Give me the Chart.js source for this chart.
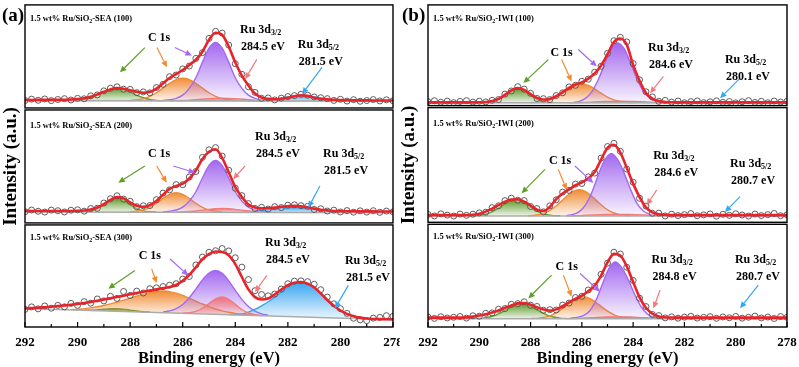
<!DOCTYPE html>
<html>
<head>
<meta charset="utf-8">
<script src="https://cdn.jsdelivr.net/npm/chart.js@4.4.1/dist/chart.umd.min.js"></script>
<style>
  html, body { margin: 0; padding: 0; background: #fff; }
  #wrap { position: relative; width: 799px; height: 367px; }
  canvas { position: absolute; top: 0; }
  #panelA { left: 0; }
  #panelB { left: 400px; }
</style>
</head>
<body>
<div id="wrap">
  <canvas id="panelA" width="400" height="367"></canvas>
  <canvas id="panelB" width="399" height="367"></canvas>
</div>
<script>
const FONT = '"Liberation Serif", "Times New Roman", serif';

// binding energy grid of the measured points (eV)
const energy = [292, 291.75, 291.5, 291.25, 291, 290.75, 290.5, 290.25, 290, 289.75,
  289.5, 289.25, 289, 288.75, 288.5, 288.25, 288, 287.75, 287.5, 287.25,
  287, 286.75, 286.5, 286.25, 286, 285.75, 285.5, 285.25, 285, 284.75,
  284.5, 284.25, 284, 283.75, 283.5, 283.25, 283, 282.75, 282.5, 282.25,
  282, 281.75, 281.5, 281.25, 281, 280.75, 280.5, 280.25, 280, 279.75,
  279.5, 279.25, 279, 278.75, 278.5, 278.25, 278];
const energyTicks = [292, 290, 288, 286, 284, 282, 280, 278];

// ---- (a) SEA ----
const sea100Raw = [8.1, 9.4, 8.3, 9.6, 8.0, 9.1, 9.9, 8.6, 10.2, 9.8,
  12.6, 13.5, 17.4, 19.9, 21.3, 19.0, 18.8, 15.7, 16.4, 15.5,
  20.6, 23.7, 31.0, 32.6, 38.5, 41.2, 48.6, 54.1, 67.8, 74.6,
  72.9, 61.4, 43.5, 33.3, 21.4, 15.9, 10.2, 10.6, 8.7, 10.4,
  11.9, 12.8, 14.1, 13.2, 11.6, 10.8, 9.9, 8.2, 9.3, 7.6,
  8.9, 7.4, 8.1, 9.0, 7.7, 8.8, 7.9];
const sea100Fit = [8.6, 8.6, 8.7, 8.7, 8.8, 8.8, 8.9, 9.1, 9.5, 10.3,
  11.8, 14.0, 16.5, 18.8, 20.0, 19.5, 18.0, 16.5, 15.6, 16.2,
  19.5, 24.5, 29.8, 33.5, 37.4, 42.3, 47.3, 55.0, 66.5, 73.3,
  71.3, 60.0, 44.6, 32.0, 22.5, 14.8, 11.0, 9.7, 9.3, 9.8,
  10.8, 12.3, 13.2, 12.6, 10.8, 9.8, 9.2, 8.8, 8.5, 8.4,
  8.3, 8.3, 8.3, 8.2, 8.2, 8.2, 8.2];
const sea100Base = [[292, 8.0], [278, 7.5]];
const sea100Green = [[290.25, 7.9], [290, 8.3], [289.75, 9.2], [289.5, 10.8], [289.25, 13.4], [289, 16.4], [288.75, 19.0], [288.5, 20.0], [288.25, 19.0], [288, 16.4], [287.75, 13.4], [287.5, 10.8], [287.25, 9.2], [287, 8.3], [286.75, 7.9]];
const sea100Orange = [[288, 8.2], [287.75, 8.8], [287.5, 10.0], [287.25, 12.2], [287, 15.6], [286.75, 20.0], [286.5, 24.6], [286.25, 28.2], [286, 29.5], [285.75, 28.2], [285.5, 24.6], [285.25, 20.0], [285, 15.6], [284.75, 12.2], [284.5, 10.0], [284.25, 8.8], [284, 8.2]];
const sea100Purple = [[286.75, 8.1], [286.5, 8.8], [286.25, 10.2], [286, 13.3], [285.75, 19.8], [285.5, 30.0], [285.25, 45.0], [285, 58.5], [284.75, 64.0], [284.5, 58.5], [284.25, 45.0], [284, 30.0], [283.75, 19.8], [283.5, 13.3], [283.25, 10.2], [283, 8.8], [282.75, 8.1]];
const sea100Pink = [[286.5, 7.9], [286, 8.2], [285.5, 9.0], [285, 9.9], [284.5, 10.3], [284, 9.9], [283.5, 9.0], [283, 8.2], [282.5, 7.9]];
const sea100Blue = [[283.5, 7.7], [283.25, 7.8], [283, 8.1], [282.75, 8.7], [282.5, 9.5], [282.25, 10.6], [282, 11.7], [281.75, 12.6], [281.5, 12.9], [281.25, 12.6], [281, 11.7], [280.75, 10.6], [280.5, 9.5], [280.25, 8.7], [280, 8.1], [279.75, 7.8], [279.5, 7.7]];

const sea200Raw = [10.6, 12.1, 11.0, 10.3, 12.0, 11.5, 10.4, 11.9, 12.3, 11.1,
  13.4, 13.6, 18.2, 21.9, 24.5, 21.6, 19.7, 15.0, 15.8, 16.0,
  21.1, 26.8, 29.6, 34.2, 34.1, 40.8, 45.6, 57.9, 64.5, 66.4,
  59.0, 46.7, 31.1, 24.6, 17.7, 13.5, 14.4, 12.9, 15.0, 14.2,
  16.3, 16.6, 15.9, 15.3, 12.6, 13.2, 11.2, 12.0, 10.4, 11.6,
  10.2, 11.4, 10.3, 11.5, 10.1, 11.2, 10.5];
const sea200Fit = [11.3, 11.3, 11.2, 11.3, 11.2, 11.2, 11.3, 11.3, 11.4, 11.7,
  12.5, 14.3, 17.3, 21.0, 23.4, 22.2, 18.8, 15.8, 14.9, 16.4,
  20.0, 25.5, 30.5, 33.0, 35.0, 39.5, 46.5, 56.5, 62.8, 65.0,
  57.5, 45.0, 32.0, 23.5, 16.8, 14.3, 13.5, 13.6, 14.2, 14.9,
  15.4, 15.7, 15.3, 14.5, 13.3, 12.4, 11.8, 11.3, 11.1, 11.0,
  11.0, 10.9, 10.9, 10.9, 10.8, 10.8, 10.8];
const sea200Base = [[292, 10.4], [278, 9.8]];
const sea200Green = [[289.75, 10.6], [289.5, 11.3], [289.25, 13.3], [289, 16.8], [288.75, 20.6], [288.5, 22.3], [288.25, 20.6], [288, 16.8], [287.75, 13.3], [287.5, 11.3], [287.25, 10.6], [287, 10.35]];
const sea200Orange = [[288, 10.5], [287.75, 11.0], [287.5, 12.2], [287.25, 14.5], [287, 18.0], [286.75, 22.2], [286.5, 25.8], [286.25, 27.2], [286, 25.8], [285.75, 22.2], [285.5, 18.0], [285.25, 14.5], [285, 12.2], [284.75, 11.0], [284.5, 10.5]];
const sea200Purple = [[286.75, 10.45], [286.5, 11.0], [286.25, 12.1], [286, 14.6], [285.75, 19.8], [285.5, 28.0], [285.25, 40.0], [285, 50.8], [284.75, 55.2], [284.5, 50.8], [284.25, 40.0], [284, 28.0], [283.75, 19.8], [283.5, 14.6], [283.25, 12.1], [283, 11.0], [282.75, 10.45]];
const sea200Pink = [[286.25, 10.25], [286, 10.4], [285.75, 10.8], [285.5, 11.3], [285.25, 12.0], [285, 12.7], [284.75, 13.2], [284.5, 13.4], [284.25, 13.2], [284, 12.7], [283.75, 12.0], [283.5, 11.3], [283.25, 10.8], [283, 10.4], [282.75, 10.25]];
const sea200Blue = [[283.75, 10.1], [283.5, 10.3], [283.25, 10.7], [283, 11.3], [282.75, 12.0], [282.5, 12.9], [282.25, 13.7], [282, 14.3], [281.75, 14.5], [281.5, 14.3], [281.25, 13.7], [281, 12.9], [280.75, 12.0], [280.5, 11.3], [280.25, 10.7], [280, 10.3], [279.75, 10.1]];

const sea300Raw = [17.1, 19.5, 17.6, 20.4, 18.2, 21.0, 19.6, 22.9, 21.0, 24.6,
  23.1, 27.2, 25.3, 29.8, 27.7, 34.5, 30.6, 34.8, 33.0, 37.1,
  38.0, 39.2, 40.6, 42.0, 46.5, 49.0, 60.2, 67.9, 72.5, 74.0,
  76.1, 73.8, 67.2, 58.1, 46.0, 35.2, 31.5, 30.2, 32.0, 36.8,
  42.0, 44.5, 44.8, 44.0, 41.5, 36.2, 29.0, 22.5, 17.8, 13.2,
  8.5, 6.9, 6.2, 8.6, 9.3, 11.0, 10.4];
const sea300Fit = [18.0, 18.3, 18.7, 19.2, 19.7, 20.3, 21.0, 21.6, 22.4, 23.3,
  24.4, 25.5, 26.7, 27.9, 29.1, 30.4, 31.7, 33.0, 34.2, 35.4,
  36.5, 37.7, 38.9, 40.8, 44.8, 50.5, 58.0, 65.8, 70.8, 73.2,
  72.8, 69.5, 61.0, 48.5, 36.5, 29.0, 26.7, 27.6, 31.5, 36.3,
  40.6, 42.9, 43.6, 42.1, 38.5, 32.6, 26.2, 20.6, 16.0, 12.7,
  10.4, 9.1, 8.3, 7.8, 7.6, 7.5, 7.4];
const sea300Base = [[292, 18.0], [278, 7.0]];
const sea300Green = [[289.75, 16.35], [289.5, 16.4], [289.25, 16.65], [289, 17.2], [288.75, 17.65], [288.5, 17.75], [288.25, 17.3], [288, 16.4], [287.75, 15.5], [287.5, 14.8], [287.25, 14.4]];
const sea300Orange = [[290.25, 16.9], [290, 17.0], [289.75, 17.8], [289.5, 18.6], [289.25, 19.6], [289, 20.9], [288.75, 22.4], [288.5, 24.2], [288.25, 26.0], [288, 28.0], [287.75, 30.0], [287.5, 31.9], [287.25, 33.6], [287, 34.7], [286.75, 34.9], [286.5, 34.3], [286.25, 32.8], [286, 30.6], [285.75, 27.9], [285.5, 25.1], [285.25, 22.3], [285, 19.7], [284.75, 17.5], [284.5, 15.7], [284.25, 14.3], [284, 13.2], [283.75, 12.4], [283.5, 11.9], [283.25, 11.4]];
const sea300Purple = [[286.75, 14.6], [286.5, 15.6], [286.25, 17.8], [286, 21.9], [285.75, 28.4], [285.5, 36.8], [285.25, 45.6], [285, 52.4], [284.75, 54.8], [284.5, 52.0], [284.25, 44.8], [284, 35.6], [283.75, 26.8], [283.5, 19.9], [283.25, 15.4], [283, 12.8], [282.75, 11.5]];
const sea300Pink = [[286, 13.5], [285.75, 13.8], [285.5, 15.2], [285.25, 18.2], [285, 22.8], [284.75, 27.3], [284.5, 29.1], [284.25, 26.9], [284, 22.0], [283.75, 17.0], [283.5, 13.6], [283.25, 11.9], [283, 11.1]];
const sea300Blue = [[284.25, 12.1], [284, 12.2], [283.75, 12.5], [283.5, 14.5], [283.25, 17.0], [283, 20.5], [282.75, 24.5], [282.5, 29.0], [282.25, 34.0], [282, 38.8], [281.75, 42.4], [281.5, 43.6], [281.25, 42.0], [281, 37.8], [280.75, 32.1], [280.5, 25.9], [280.25, 20.3], [280, 15.7], [279.75, 12.5], [279.5, 10.3], [279.25, 9.0], [279, 8.2], [278.75, 7.8]];

// ---- (b) IWI ----
const iwi100Raw = [4.9, 5.8, 4.3, 5.4, 3.9, 5.1, 5.9, 4.4, 5.3, 4.6,
  6.2, 7.0, 12.3, 15.4, 19.6, 17.2, 13.1, 8.0, 7.8, 6.9,
  10.9, 13.6, 19.4, 21.0, 24.9, 27.0, 33.8, 39.7, 52.4, 64.8,
  68.1, 63.6, 42.3, 26.4, 14.6, 9.5, 5.2, 6.1, 4.4, 5.5,
  3.8, 4.9, 5.6, 3.9, 4.7, 5.7, 4.2, 5.0, 3.7, 4.8,
  5.9, 4.1, 5.2, 3.8, 5.5, 4.5, 5.3];
const iwi100Fit = [4.2, 4.2, 4.2, 4.2, 4.2, 4.2, 4.2, 4.2, 4.3, 4.6,
  5.5, 7.6, 11.5, 16.0, 18.3, 16.4, 12.3, 8.6, 7.0, 7.6,
  10.2, 14.2, 18.5, 21.8, 23.8, 27.5, 32.6, 40.5, 51.5, 63.5,
  67.0, 61.0, 41.0, 25.5, 13.5, 7.8, 5.4, 4.6, 4.3, 4.2,
  4.2, 4.2, 4.2, 4.2, 4.2, 4.2, 4.2, 4.2, 4.2, 4.2,
  4.2, 4.2, 4.2, 4.2, 4.2, 4.2, 4.2];
const iwi100Base = [[292, 3.8], [278, 3.7]];
const iwi100Green = [[289.75, 4.1], [289.5, 4.9], [289.25, 7.2], [289, 11.2], [288.75, 15.5], [288.5, 17.5], [288.25, 15.5], [288, 11.2], [287.75, 7.2], [287.5, 4.9], [287.25, 4.1]];
const iwi100Orange = [[288, 4.0], [287.75, 4.3], [287.5, 5.1], [287.25, 6.7], [287, 9.4], [286.75, 13.2], [286.5, 17.4], [286.25, 20.8], [286, 22.1], [285.75, 20.8], [285.5, 17.4], [285.25, 13.2], [285, 9.4], [284.75, 6.7], [284.5, 5.1], [284.25, 4.3], [284, 4.0]];
const iwi100Purple = [[286.35, 4.2], [286.1, 5.2], [285.85, 8.3], [285.6, 15.0], [285.35, 27.1], [285.1, 42.8], [284.85, 56.9], [284.6, 62.7], [284.35, 56.9], [284.1, 42.8], [283.85, 27.1], [283.6, 15.0], [283.35, 8.3], [283.1, 5.2], [282.85, 4.2]];
const iwi100Pink = [[286.5, 3.85], [286, 4.1], [285.5, 4.6], [285, 5.1], [284.5, 5.4], [284, 5.1], [283.5, 4.6], [283, 4.1], [282.5, 3.85]];
const iwi100Blue = [[282.5, 3.75], [282, 3.8], [281.5, 3.9], [281, 4.05], [280.5, 4.25], [280.1, 4.35], [279.5, 4.2], [279, 4.0], [278.5, 3.85], [278, 3.75]];

const iwi200Raw = [7.6, 6.3, 8.1, 7.0, 6.2, 7.9, 6.8, 7.8, 8.9, 9.5,
  13.4, 15.0, 19.4, 21.5, 19.8, 19.5, 14.4, 12.6, 9.8, 14.9,
  20.1, 26.7, 28.2, 33.6, 34.1, 39.8, 43.0, 55.9, 65.8, 68.5,
  61.7, 46.5, 35.2, 21.4, 14.7, 8.6, 8.7, 6.3, 7.8, 6.6,
  7.4, 8.3, 6.5, 7.2, 8.0, 6.1, 7.7, 6.8, 8.2, 7.1,
  6.2, 7.9, 6.6, 7.4, 8.4, 6.5, 7.3];
const iwi200Fit = [7.0, 7.0, 7.0, 7.0, 7.0, 7.0, 7.0, 7.3, 8.2, 10.0,
  12.6, 15.6, 18.5, 20.4, 20.6, 18.6, 15.2, 11.7, 10.5, 14.0,
  20.8, 25.6, 29.0, 32.6, 35.0, 38.6, 44.0, 54.6, 64.6, 67.3,
  60.5, 47.6, 34.0, 22.5, 13.6, 9.4, 7.8, 7.2, 7.0, 7.0,
  7.0, 7.0, 7.0, 7.0, 7.0, 7.0, 7.0, 7.0, 7.0, 7.0,
  7.0, 7.0, 7.0, 7.0, 7.0, 7.0, 7.0];
const iwi200Base = [[292, 6.3], [278, 6.2]];
const iwi200Green = [[290.35, 6.4], [290.1, 6.6], [289.85, 7.3], [289.6, 8.9], [289.35, 11.7], [289.1, 15.3], [288.85, 18.6], [288.6, 19.9], [288.35, 18.6], [288.1, 15.3], [287.85, 11.7], [287.6, 8.9], [287.35, 7.3], [287.1, 6.6], [286.85, 6.4]];
const iwi200Orange = [[288.1, 6.5], [287.85, 6.9], [287.6, 7.9], [287.35, 9.8], [287.1, 13.15], [286.85, 17.8], [286.6, 23.0], [286.35, 27.1], [286.1, 28.7], [285.85, 27.1], [285.6, 23.0], [285.35, 17.8], [285.1, 13.15], [284.85, 9.8], [284.6, 7.9], [284.35, 6.9], [284.1, 6.5]];
const iwi200Purple = [[286.6, 6.6], [286.35, 7.5], [286.1, 10.0], [285.85, 16.0], [285.6, 27.0], [285.35, 42.0], [285.1, 54.5], [284.85, 59.9], [284.6, 54.5], [284.35, 43.0], [284.1, 29.0], [283.85, 17.0], [283.6, 10.5], [283.35, 7.6], [283.1, 6.6]];
const iwi200Pink = [[286.6, 6.35], [286.1, 6.6], [285.6, 7.1], [285.1, 7.5], [284.6, 7.6], [284.1, 7.5], [283.6, 7.1], [283.1, 6.6], [282.6, 6.35]];
const iwi200Blue = [[282.5, 6.25], [282, 6.35], [281.5, 6.5], [281, 6.7], [280.7, 6.8], [280.2, 6.7], [279.7, 6.5], [279.2, 6.35], [278.7, 6.25], [278, 6.2]];

const iwi300Raw = [9.6, 8.3, 9.9, 8.7, 9.4, 10.1, 8.6, 10.8, 10.4, 13.2,
  13.6, 17.1, 17.8, 21.9, 22.5, 24.3, 21.0, 19.8, 16.2, 16.7,
  16.4, 21.2, 23.1, 28.4, 29.6, 35.7, 39.1, 50.8, 61.6, 72.1,
  70.4, 57.6, 44.9, 27.8, 19.7, 12.1, 11.0, 8.8, 9.8, 8.5,
  9.5, 10.3, 8.6, 9.3, 10.0, 8.4, 9.7, 8.9, 10.2, 8.5,
  9.4, 10.5, 8.7, 9.6, 8.2, 10.1, 9.3];
const iwi300Fit = [9.0, 9.0, 9.0, 9.0, 9.0, 9.0, 9.3, 10.0, 11.0, 12.3,
  14.0, 16.0, 18.4, 20.8, 22.8, 23.2, 21.5, 19.0, 16.8, 15.8,
  17.0, 20.0, 23.8, 27.2, 30.3, 34.5, 39.8, 49.5, 62.3, 70.5,
  69.0, 58.5, 43.5, 28.6, 18.5, 12.8, 10.2, 9.4, 9.1, 9.0,
  9.0, 9.0, 9.0, 9.0, 9.0, 9.0, 9.0, 9.0, 9.0, 9.0,
  9.0, 9.0, 9.0, 9.0, 9.0, 9.0, 9.0];
const iwi300Base = [[292, 8.0], [278, 7.9]];
const iwi300Green = [[290.1, 8.2], [289.85, 8.6], [289.6, 9.6], [289.35, 11.5], [289.1, 14.5], [288.85, 18.0], [288.6, 20.9], [288.35, 22.1], [288.1, 20.9], [287.85, 18.0], [287.6, 14.5], [287.35, 11.5], [287.1, 9.6], [286.85, 8.6], [286.6, 8.2]];
const iwi300Orange = [[287.95, 8.2], [287.7, 8.6], [287.45, 9.5], [287.2, 11.3], [286.95, 14.5], [286.7, 18.9], [286.45, 23.8], [286.2, 27.7], [285.95, 29.2], [285.7, 27.7], [285.45, 23.8], [285.2, 18.9], [284.95, 14.5], [284.7, 11.3], [284.45, 9.5], [284.2, 8.6], [283.95, 8.2]];
const iwi300Purple = [[286.45, 8.4], [286.2, 9.3], [285.95, 10.9], [285.7, 15.4], [285.45, 25.8], [285.2, 41.3], [284.95, 56.3], [284.7, 62.8], [284.45, 57.5], [284.2, 46.0], [283.95, 32.0], [283.7, 20.0], [283.45, 12.5], [283.2, 9.5], [282.95, 8.5], [282.7, 8.1]];
const iwi300Pink = [[286.6, 8.1], [286.1, 8.5], [285.6, 9.0], [285.1, 9.6], [284.6, 9.8], [284.1, 9.6], [283.6, 9.0], [283.1, 8.5], [282.6, 8.1]];
const iwi300Blue = [[282.5, 8.0], [282, 8.1], [281.5, 8.25], [281, 8.45], [280.7, 8.55], [280.2, 8.45], [279.7, 8.25], [279.2, 8.1], [278.7, 8.0], [278, 7.95]];

// peak labels (Ru 3d3/2, Ru 3d5/2)
const sea100Peaks = ['284.5 eV', '281.5 eV'];
const sea200Peaks = ['284.5 eV', '281.5 eV'];
const sea300Peaks = ['284.5 eV', '281.5 eV'];
const iwi100Peaks = ['284.6 eV', '280.1 eV'];
const iwi200Peaks = ['284.6 eV', '280.7 eV'];
const iwi300Peaks = ['284.8 eV', '280.7 eV'];

// where the notes sit, in (eV, intensity) of each sub-plot
const sea100Notes = { c1s: [286.9, 68.6], ru32: [283.82, 76.2], ru52: [281.62, 61.9],
  arrows: [[287.44, 59, 288.39, 35.2], [286.98, 59, 286.6, 40], [286.3, 59, 285.65, 51.4], [283.18, 47.6, 283.63, 28.6], [280.7, 40, 281.46, 14.3]] };
const sea200Notes = { c1s: [286.9, 60.6], ru32: [283.25, 75.7], ru52: [280.66, 60.9],
  arrows: [[287.44, 50.4, 288.45, 35.9], [286.99, 50.4, 286.61, 35.9], [286.36, 50.4, 285.53, 44.6], [283.63, 50.4, 284.08, 38.9], [280.78, 33, 281.22, 14.2]] };
const sea300Notes = { c1s: [287.25, 69.2], ru32: [282.87, 82], ru52: [279.83, 64.4],
  arrows: [[287.82, 54.8, 288.83, 37.2], [287.18, 56.4, 286.99, 42.6], [286.48, 66, 285.79, 50], [282.8, 50, 283.25, 34], [279.7, 40.4, 280.21, 18]] };
const iwi100Notes = { c1s: [286.79, 52.8], ru32: [283.42, 57.7], ru52: [280.42, 45.5],
  arrows: [[287.31, 46.2, 288.28, 23.1], [286.79, 46.2, 286.4, 24.8], [286.14, 56.1, 285.42, 39.6], [282.82, 29.7, 283.34, 13.2], [279.83, 28, 280.61, 8.2]] };
const iwi200Notes = { c1s: [286.85, 53.5], ru32: [283.22, 57.9], ru52: [280.22, 50.6],
  arrows: [[287.44, 46.2, 288.35, 25.7], [286.92, 46.2, 286.59, 28.7], [286.27, 49.1, 285.55, 34.5], [283.08, 28.7, 283.47, 15.5], [279.83, 22.8, 280.42, 9.6]] };
const iwi300Notes = { c1s: [286.59, 58], ru32: [283.28, 64.4], ru52: [280.03, 64.4],
  arrows: [[287.18, 50, 288.09, 27.6], [286.72, 50, 286.4, 29.1], [286.07, 51.6, 285.29, 34], [282.95, 35.6, 283.21, 18], [279.12, 40.4, 279.83, 18]] };

const lineColor = { green: '#5f9e27', orange: '#f28b30', purple: '#a468f2', pink: '#f27a7c', blue: '#33a7f2' };
const fillRgb = { green: '88,150,36', orange: '240,135,45', purple: '158,96,238', pink: '240,112,116', blue: '45,160,240' };
const arrowOrder = ['green', 'orange', 'purple', 'pink', 'blue'];
const axisIds = ['yTop', 'yMid', 'yBot'];

const panels = [
  {
    canvas: 'panelA', tag: '(a)', axisWidth: 25, titlePad: 1.5,
    padding: { top: 2, right: 7, bottom: 0, left: 0 }, weights: [105, 116, 104],
    plots: [
      { suffix: '-SEA (100)', raw: sea100Raw, fit: sea100Fit, base: sea100Base, green: sea100Green, orange: sea100Orange, purple: sea100Purple, pink: sea100Pink, blue: sea100Blue, peaks: sea100Peaks, notes: sea100Notes },
      { suffix: '-SEA (200)', raw: sea200Raw, fit: sea200Fit, base: sea200Base, green: sea200Green, orange: sea200Orange, purple: sea200Purple, pink: sea200Pink, blue: sea200Blue, peaks: sea200Peaks, notes: sea200Notes },
      { suffix: '-SEA (300)', raw: sea300Raw, fit: sea300Fit, base: sea300Base, green: sea300Green, orange: sea300Orange, purple: sea300Purple, pink: sea300Pink, blue: sea300Blue, peaks: sea300Peaks, notes: sea300Notes }
    ]
  },
  {
    canvas: 'panelB', tag: '(b)', axisWidth: 28, titlePad: 0,
    padding: { top: 4, right: 12, bottom: 0, left: 0 }, weights: [102, 117, 104],
    plots: [
      { suffix: '-IWI (100)', raw: iwi100Raw, fit: iwi100Fit, base: iwi100Base, green: iwi100Green, orange: iwi100Orange, purple: iwi100Purple, pink: iwi100Pink, blue: iwi100Blue, peaks: iwi100Peaks, notes: iwi100Notes },
      { suffix: '-IWI (200)', raw: iwi200Raw, fit: iwi200Fit, base: iwi200Base, green: iwi200Green, orange: iwi200Orange, purple: iwi200Purple, pink: iwi200Pink, blue: iwi200Blue, peaks: iwi200Peaks, notes: iwi200Notes },
      { suffix: '-IWI (300)', raw: iwi300Raw, fit: iwi300Fit, base: iwi300Base, green: iwi300Green, orange: iwi300Orange, purple: iwi300Purple, pink: iwi300Pink, blue: iwi300Blue, peaks: iwi300Peaks, notes: iwi300Notes }
    ]
  }
];

function pts(list) { return list.map(([x, y]) => ({ x, y })); }
function onGrid(values) { return energy.map((x, i) => ({ x, y: values[i] })); }

// vertical fade from the top of a peak down to the background
function fade(rgb) {
  return (ctx) => {
    const chart = ctx.chart;
    const ds = chart.data.datasets[ctx.datasetIndex];
    const scale = chart.scales[ds.yAxisID];
    if (!chart.chartArea || !scale) return 'rgba(0,0,0,0)';
    const ys = ds.data.map(p => p.y);
    const top = scale.getPixelForValue(Math.max(...ys));
    const bot = scale.getPixelForValue(Math.min(...ys));
    const g = chart.ctx.createLinearGradient(0, top, 0, bot + 1);
    g.addColorStop(0, `rgba(${rgb},0.95)`);
    g.addColorStop(0.5, `rgba(${rgb},0.5)`);
    g.addColorStop(1, `rgba(${rgb},0.06)`);
    return g;
  };
}

function plotDatasets(plot, axisId, offset) {
  const sets = [{
    data: pts(plot.base), yAxisID: axisId, borderColor: '#ababab', borderWidth: 1.6,
    pointRadius: 0, tension: 0, fill: false, order: 2
  }];
  const layers = [['green', 7], ['orange', 6], ['purple', 5], ['blue', 4], ['pink', 3]];
  for (const [key, ord] of layers) {
    sets.push({
      data: pts(plot[key]), yAxisID: axisId, borderColor: lineColor[key], borderWidth: 1.4,
      pointRadius: 0, cubicInterpolationMode: 'monotone', fill: offset,
      backgroundColor: fade(fillRgb[key]), order: ord
    });
  }
  sets.push({
    data: onGrid(plot.fit), yAxisID: axisId, borderColor: '#e8232a', borderWidth: 2.6,
    pointRadius: 0, cubicInterpolationMode: 'monotone', fill: false, order: 0
  });
  sets.push({
    data: onGrid(plot.raw), yAxisID: axisId, showLine: false, pointRadius: 3,
    pointBorderWidth: 0.9, pointBorderColor: '#4d4d4d', pointBackgroundColor: 'rgba(255,255,255,0.25)',
    fill: false, order: 1
  });
  return sets;
}

function richText(ctx, parts, x, y) {
  for (const [t, size, dy] of parts) {
    ctx.font = `bold ${size}px ${FONT}`;
    ctx.fillText(t, x, y + dy);
    x += ctx.measureText(t).width;
  }
}

function arrow(ctx, x1, y1, x2, y2, color) {
  const a = Math.atan2(y2 - y1, x2 - x1);
  const head = 6.5, wing = 3;
  const bx = x2 - head * Math.cos(a), by = y2 - head * Math.sin(a);
  ctx.strokeStyle = color;
  ctx.fillStyle = color;
  ctx.lineWidth = 1.2;
  ctx.beginPath();
  ctx.moveTo(x1, y1);
  ctx.lineTo(bx, by);
  ctx.stroke();
  ctx.beginPath();
  ctx.moveTo(x2, y2);
  ctx.lineTo(bx + wing * Math.sin(a), by - wing * Math.cos(a));
  ctx.lineTo(bx - wing * Math.sin(a), by + wing * Math.cos(a));
  ctx.closePath();
  ctx.fill();
}

function notesPlugin(panel) {
  return {
    id: 'notes',
    afterDatasetsDraw(chart) {
      const ctx = chart.ctx;
      const xs = chart.scales.x;
      const area = chart.chartArea;
      ctx.save();
      panel.plots.forEach((plot, i) => {
        const ys = chart.scales[axisIds[i]];
        const X = (e) => xs.getPixelForValue(e);
        const Y = (v) => ys.getPixelForValue(v);
        // frame
        const top = ys.top + (i > 0 ? 1 : 0);
        const bot = ys.bottom - (i < 2 ? 1 : 0);
        ctx.strokeStyle = '#000';
        ctx.lineWidth = 1.4;
        ctx.strokeRect(area.left, top, area.right - area.left, bot - top);
        // sample name
        ctx.fillStyle = '#000';
        ctx.textAlign = 'left';
        ctx.textBaseline = 'alphabetic';
        richText(ctx, [['1.5 wt% Ru/SiO', 8.5, 0], ['2', 6, 2], [plot.suffix, 8.5, 0]], area.left + 5, ys.top + (i === 1 ? 19 : 16));
        // arrows
        plot.notes.arrows.forEach((a, k) => arrow(ctx, X(a[0]), Y(a[1]), X(a[2]), Y(a[3]), lineColor[arrowOrder[k]]));
        // labels
        ctx.fillStyle = '#000';
        ctx.textBaseline = 'middle';
        ctx.textAlign = 'center';
        ctx.font = `bold 12px ${FONT}`;
        ctx.fillText('C 1s', X(plot.notes.c1s[0]), Y(plot.notes.c1s[1]));
        ctx.textAlign = 'left';
        const r32 = plot.notes.ru32, r52 = plot.notes.ru52;
        richText(ctx, [['Ru 3d', 12, 0], ['3/2', 8, 3]], X(r32[0]), Y(r32[1]));
        ctx.font = `bold 12px ${FONT}`;
        ctx.fillText(plot.peaks[0], X(r32[0]) + 1, Y(r32[1]) + 17);
        richText(ctx, [['Ru 3d', 12, 0], ['5/2', 8, 3]], X(r52[0]), Y(r52[1]));
        ctx.font = `bold 12px ${FONT}`;
        ctx.fillText(plot.peaks[1], X(r52[0]) + 1, Y(r52[1]) + 17);
      });
      // inward ticks on the bottom frame
      ctx.strokeStyle = '#000';
      ctx.lineWidth = 1.2;
      for (const t of xs.ticks) {
        const px = xs.getPixelForValue(t.value);
        const len = energyTicks.includes(t.value) ? 5 : 3;
        ctx.beginPath();
        ctx.moveTo(px, area.bottom);
        ctx.lineTo(px, area.bottom - len);
        ctx.stroke();
      }
      // panel letter
      ctx.fillStyle = '#000';
      ctx.textAlign = 'left';
      ctx.textBaseline = 'alphabetic';
      ctx.font = `bold 19px ${FONT}`;
      ctx.fillText(panel.tag, 2, 21);
      ctx.restore();
    }
  };
}

function yAxis(panel, i) {
  return {
    type: 'linear', position: 'left', stack: 'rows', stackWeight: panel.weights[i],
    min: 0, max: 100,
    afterFit: (s) => { s.width = panel.axisWidth; },
    ticks: { display: false },
    grid: { display: false },
    border: { display: false },
    title: {
      display: i === 1, text: 'Intensity (a.u.)', color: '#000',
      font: { family: FONT, size: 19, weight: 'bold', lineHeight: 1 },
      padding: { top: panel.titlePad, bottom: 0 }
    }
  };
}

for (const panel of panels) {
  const datasets = [];
  panel.plots.forEach((plot, i) => {
    datasets.push(...plotDatasets(plot, axisIds[i], datasets.length));
  });

  new Chart(document.getElementById(panel.canvas).getContext('2d'), {
    type: 'line',
    data: { datasets },
    options: {
      responsive: false,
      animation: false,
      devicePixelRatio: 1,
      layout: { padding: panel.padding },
      plugins: { legend: { display: false }, tooltip: { enabled: false } },
      scales: {
        x: {
          type: 'linear', position: 'bottom', min: 278, max: 292, reverse: true,
          afterFit: (s) => { s.height = 40; s.paddingLeft = 0; s.paddingRight = 0; },
          grid: { display: false, drawTicks: false, tickLength: 0 },
          border: { display: false },
          ticks: {
            stepSize: 1, autoSkip: false, maxRotation: 0, padding: 8, color: '#000',
            font: { family: FONT, size: 13, weight: 'bold' },
            callback: (v) => energyTicks.includes(v) ? String(v) : ''
          },
          title: {
            display: true, text: 'Binding energy (eV)', color: '#000',
            font: { family: FONT, size: 16.5, weight: 'bold', lineHeight: 1 },
            padding: { top: 0, bottom: 0.5 }
          }
        },
        // listed bottom-first: stacked left axes are laid out in reverse order
        yBot: yAxis(panel, 2),
        yMid: yAxis(panel, 1),
        yTop: yAxis(panel, 0)
      }
    },
    plugins: [notesPlugin(panel)]
  });
}
</script>
</body>
</html>
